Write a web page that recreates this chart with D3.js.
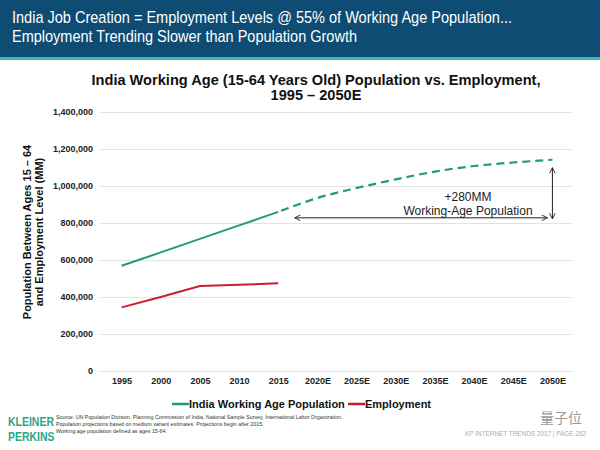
<!DOCTYPE html>
<html><head><meta charset="utf-8">
<script src="https://cdn.jsdelivr.net/npm/d3@7"></script>
<style>
body{margin:0;background:#fff;}
svg{display:block;font-family:"Liberation Sans",Arial,sans-serif;}
</style></head>
<body>
<svg id="c" width="600" height="450"></svg>
<script>
const years = ["1995","2000","2005","2010","2015","2020E","2025E","2030E","2035E","2040E","2045E","2050E"];
const popActual = [569000, 641000, 714000, 787000, 860000];
const popProjected = [860000, 935000, 989000, 1036000, 1078000, 1108000, 1127000, 1142000];
const employment = [344000, 400000, 459000, 466000, 474000];
const yTicks = [0, 200000, 400000, 600000, 800000, 1000000, 1200000, 1400000];
const annotation = {fromYear:"2015", toYear:"2050E", level:828000, lines:["+280MM","Working-Age Population"]};

const svg = d3.select("#c");
const green = "#1f9e6b", red = "#c8202a";

// header
svg.append("rect").attr("x",0).attr("y",0).attr("width",600).attr("height",57).attr("fill","#0e4c74");
svg.append("rect").attr("x",0).attr("y",57).attr("width",600).attr("height",3).attr("fill","#3fb6b4");
const hdr = [{t:"India Job Creation = Employment Levels @ 55% of Working Age Population...",w:500},
             {t:"Employment Trending Slower than Population Growth",w:345}];
svg.selectAll("text.hdr").data(hdr).join("text").attr("class","hdr")
  .attr("x",12).attr("y",(d,i)=>23+i*19).attr("fill","#fff").attr("font-size",17)
  .attr("textLength",d=>d.w).attr("lengthAdjust","spacingAndGlyphs")
  .text(d=>d.t);

// chart title
const ttl = ["India Working Age (15-64 Years Old) Population vs. Employment,","1995 – 2050E"];
svg.selectAll("text.ttl").data(ttl).join("text").attr("class","ttl")
  .attr("x",316).attr("y",(d,i)=>85+i*15).attr("text-anchor","middle")
  .attr("font-weight","bold").attr("font-size",14.6).attr("fill","#111").text(d=>d);

const x = d3.scalePoint().domain(years).range([102,572]).padding(0.5);
const y = d3.scaleLinear().domain([0,1400000]).range([371,112]);

// gridlines
const yAxis = d3.axisLeft(y).tickValues(yTicks).tickSize(-472).tickFormat(d3.format(",")).tickPadding(7);
const gy = svg.append("g").attr("transform","translate(100,0)").call(yAxis);
gy.select(".domain").remove();
gy.selectAll(".tick line").attr("stroke","#e3e3e3").attr("stroke-width",1);
gy.selectAll(".tick text").attr("font-size",9).attr("font-weight","bold").attr("fill","#222")
  .attr("font-family","Liberation Sans, Arial, sans-serif");

const xAxis = d3.axisBottom(x).tickSize(0).tickPadding(7);
const gx = svg.append("g").attr("transform","translate(0,371)").call(xAxis);
gx.select(".domain").remove();
gx.selectAll(".tick text").attr("font-size",9).attr("font-weight","bold").attr("fill","#222")
  .attr("font-family","Liberation Sans, Arial, sans-serif");

// y axis title
const yt = svg.append("text").attr("transform","translate(34,232) rotate(-90)")
  .attr("text-anchor","middle").attr("font-weight","bold").attr("font-size",11).attr("fill","#111");
yt.append("tspan").attr("x",0).attr("y",-3).text("Population Between Ages 15 – 64");
yt.append("tspan").attr("x",0).attr("y",9).text("and Employment Level (MM)");

// lines
const line = d3.line().x(d=>x(d[0])).y(d=>y(d[1]));
svg.append("path").datum(popActual.map((v,i)=>[years[i],v]))
  .attr("d",line).attr("fill","none").attr("stroke",green).attr("stroke-width",2);
svg.append("path").datum(popProjected.map((v,i)=>[years[i+4],v]))
  .attr("d",d3.line().curve(d3.curveMonotoneX).x(d=>x(d[0])).y(d=>y(d[1])))
  .attr("fill","none").attr("stroke",green).attr("stroke-width",2.2)
  .attr("stroke-dasharray","8,5").attr("stroke-dashoffset",-3);
svg.append("path").datum(employment.map((v,i)=>[years[i],v]))
  .attr("d",line).attr("fill","none").attr("stroke",red).attr("stroke-width",2);

// annotation arrows
const defs = svg.append("defs");
defs.append("marker").attr("id","ah").attr("viewBox","0 0 10 10").attr("refX",9).attr("refY",5)
  .attr("markerWidth",7).attr("markerHeight",7).attr("orient","auto-start-reverse")
  .append("path").attr("d","M1,1 L9,5 L1,9").attr("fill","none").attr("stroke","#222").attr("stroke-width",1.3);
const step = x.step();
const ay = y(annotation.level);
svg.append("line").attr("x1",x(annotation.fromYear)+step*0.42).attr("x2",x(annotation.toYear)-5)
  .attr("y1",ay).attr("y2",ay).attr("stroke","#222").attr("stroke-width",1)
  .attr("marker-start","url(#ah)").attr("marker-end","url(#ah)");
svg.append("line").attr("x1",x(annotation.toYear)).attr("x2",x(annotation.toYear))
  .attr("y1",y(popProjected[popProjected.length-1])+8).attr("y2",ay+1).attr("stroke","#222").attr("stroke-width",1)
  .attr("marker-start","url(#ah)").attr("marker-end","url(#ah)");
svg.selectAll("text.ann").data(annotation.lines).join("text").attr("class","ann")
  .attr("x",468).attr("y",(d,i)=>ay-17+i*14).attr("text-anchor","middle")
  .attr("font-size",12).attr("fill","#222").text(d=>d);

// legend
const legend = [{name:"India Working Age Population",color:green,x:172},{name:"Employment",color:red,x:348}];
const lg = svg.selectAll("g.lg").data(legend).join("g").attr("class","lg").attr("transform",d=>`translate(${d.x},404)`);
lg.append("line").attr("x1",0).attr("x2",17).attr("stroke",d=>d.color).attr("stroke-width",2.5);
lg.append("text").attr("x",17).attr("y",4).attr("font-size",11).attr("font-weight","bold").attr("fill","#111").text(d=>d.name);

// footer logo
const kp = ["KLEINER","PERKINS"];
svg.selectAll("text.kp").data(kp).join("text").attr("class","kp")
  .attr("transform",(d,i)=>`translate(8,${426+i*15}) scale(0.82,1)`)
  .attr("font-size",12.8).attr("font-weight","bold").attr("fill","#2aa882").text(d=>d);

const src = ["Source: UN Population Division, Planning Commission of India, National Sample Survey, International Labor Organization.",
  "Population projections based on medium variant estimates. Projections begin after 2015.",
  "Working age population defined as ages 15-64."];
svg.selectAll("text.src").data(src).join("text").attr("class","src")
  .attr("x",56).attr("y",(d,i)=>419+i*7).attr("font-size",5.3).attr("fill","#333").text(d=>d);
svg.append("text").attr("x",586).attr("y",436).attr("text-anchor","end").attr("font-size",6.4)
  .attr("fill","#aaa").text("KP INTERNET TRENDS 2017  |  PAGE 262");
svg.append("text").attr("x",582).attr("y",423).attr("text-anchor","end").attr("font-size",14)
  .attr("font-family","Noto Sans CJK SC, sans-serif").attr("fill","#999").text("量子位");
</script>
</body></html>
